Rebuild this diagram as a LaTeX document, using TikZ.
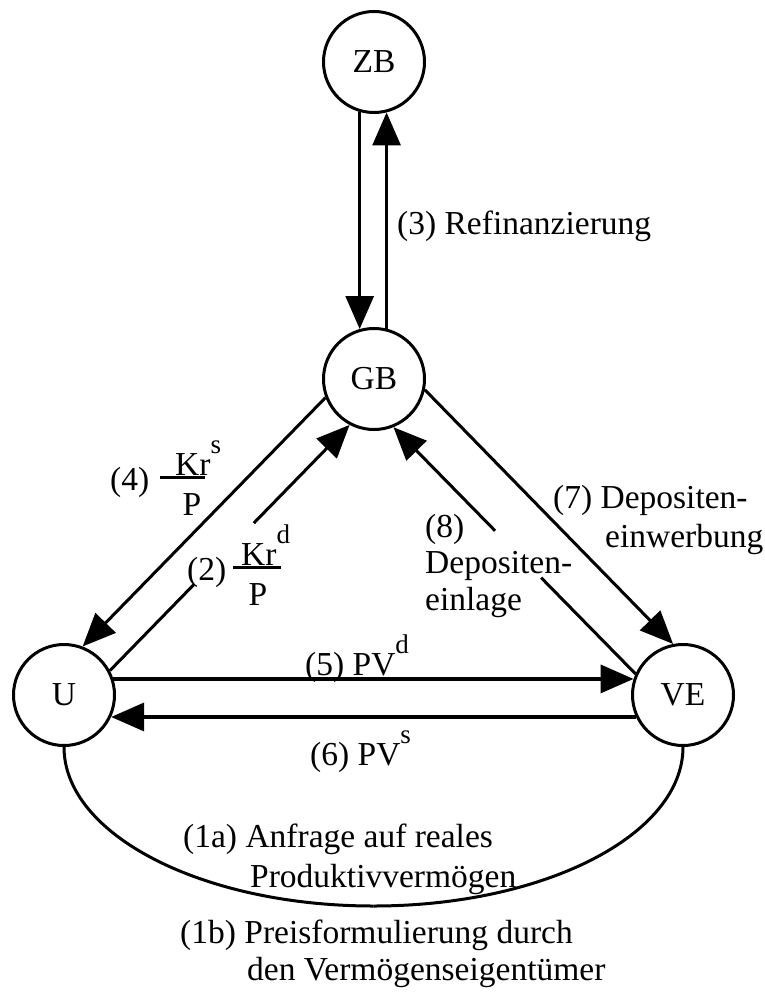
\documentclass[tikz,border=0pt]{standalone}
\usepackage{fontspec}
\setmainfont{Liberation Serif}
\usetikzlibrary{arrows.meta,calc}
\newcommand\sups[1]{\raisebox{22pt}{\fontsize{27}{27}\selectfont #1}}
\newcommand\lbl[2]{\fontsize{33.5}{#1}\selectfont\begin{tabular}[t]{@{}l@{}}#2\end{tabular}}
\begin{document}
\begin{tikzpicture}[x=1pt,y=-1pt,
  font=\fontsize{33.5}{39}\selectfont,
  station/.style={circle, draw, line width=3pt, minimum size=101pt, inner sep=0pt},
  flow/.style={line width=3pt, -{Triangle[length=33pt,width=28pt]}},
  plain/.style={line width=3pt},
  txt/.style={anchor=base west, inner sep=0pt}]
\useasboundingbox (0,0) rectangle (764,992);
\fill[white] (0,0) rectangle (764,992);

\node[station] (ZB) at (374,62) {ZB};
\node[station] (GB) at (374,379) {GB};
\node[station] (U) at (64,695) {U};
\node[station] (VE) at (683,695) {VE};

% (3)
\draw[flow] (ZB.254) -- (GB.106);
\draw[flow] (GB.76) -- (ZB.284);
% (4)
\draw[flow] (GB.201) -- (U.69);
% (2)
\draw[plain] (U.28) -- ($(U.28)!0.35!(GB.242)$);
\draw[flow] ($(U.28)!0.6!(GB.242)$) -- (GB.242);
% (7)
\draw[flow] (GB.348) -- (VE.101);
% (8)
\draw[plain] (VE.156) -- ($(VE.156)!0.39!(GB.292)$);
\draw[flow] ($(VE.156)!0.58!(GB.292)$) -- (GB.292);
% (5), (6)
\draw[flow, line width=3.5pt] (U.18) -- (VE.162);
\draw[flow, line width=3.5pt] (VE.205) -- (U.335);
% (1a)/(1b)
\draw[plain] (U.south) arc[start angle=180,end angle=270,x radius=309.5pt,y radius=159pt];
\draw[plain] (VE.south) arc[start angle=0,end angle=-90,x radius=309.5pt,y radius=159pt];

\node[txt] (t3) at (397,235) {(3) Refinanzierung};
\node[txt] (t4) at (110,490) {(4)};
\node[txt] (t4k) at (175,475) {\rlap{\hspace*{-15pt}\rule[-4pt]{45pt}{3pt}}Kr\sups{s}};
\node[anchor=base, inner sep=0pt] (t4p) at (192,515) {P};
\node[txt] (t2) at (187,580) {(2)};
\node[txt] (t2k) at (241,565) {\rlap{\hspace*{-8pt}\rule[-4pt]{48pt}{3pt}}Kr\sups{d}};
\node[anchor=base, inner sep=0pt] (t2p) at (258,605) {P};
\node[txt] (t8) at (425,537) {\lbl{36.5}{(8)\\Depositen-\\einlage}};
\node[txt] (t7) at (553,508) {\lbl{39}{(7) Depositen-\\\hspace*{52pt}einwerbung}};
\node[txt] (t5) at (305,675) {(5) PV\sups{d}};
\node[txt] (t6) at (310,765) {(6) PV\sups{s}};
\node[txt] (t1a) at (183,847) {\lbl{40}{(1a) Anfrage auf reales\\\hspace*{67pt}Produktivvermögen}};
\node[txt] (t1b) at (180,943) {\lbl{37}{(1b) Preisformulierung durch\\\hspace*{67pt}den Vermögenseigentümer}};
\end{tikzpicture}
\end{document}
